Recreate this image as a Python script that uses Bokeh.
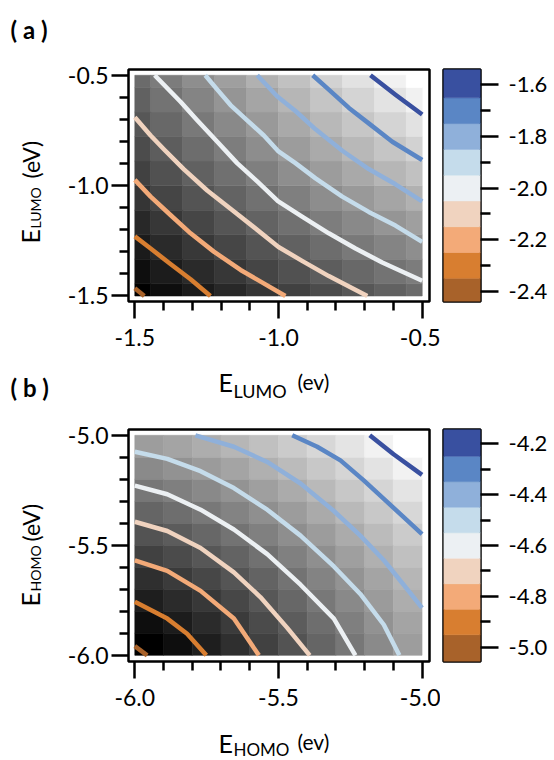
import numpy as np
from bokeh.plotting import figure
from bokeh.layouts import column, row
from bokeh.models import (Range1d, FixedTicker, PrintfTickFormatter, Label,
                          LinearColorMapper, ColumnDataSource)
from bokeh.palettes import Greys256
from bokeh.embed import file_html
from bokeh.resources import INLINE

FONT = "Lato"

# ---------------- panel (a) data ----------------
a_grid = [-1.5, -1.389, -1.278, -1.167, -1.056, -0.944, -0.833, -0.722, -0.611, -0.5]
a_z = [
    [-2.413, -2.364, -2.317, -2.271, -2.227, -2.185, -2.145, -2.107, -2.072, -2.039],
    [-2.364, -2.314, -2.265, -2.218, -2.172, -2.129, -2.087, -2.048, -2.011, -1.977],
    [-2.317, -2.265, -2.215, -2.166, -2.119, -2.074, -2.030, -1.990, -1.951, -1.915],
    [-2.271, -2.218, -2.166, -2.115, -2.067, -2.020, -1.975, -1.932, -1.892, -1.855],
    [-2.227, -2.172, -2.119, -2.067, -2.016, -1.968, -1.921, -1.876, -1.834, -1.795],
    [-2.185, -2.129, -2.074, -2.020, -1.968, -1.917, -1.868, -1.822, -1.778, -1.737],
    [-2.145, -2.087, -2.030, -1.975, -1.921, -1.868, -1.818, -1.769, -1.723, -1.680],
    [-2.107, -2.048, -1.990, -1.932, -1.876, -1.822, -1.769, -1.719, -1.670, -1.624],
    [-2.072, -2.011, -1.951, -1.892, -1.834, -1.778, -1.723, -1.670, -1.620, -1.571],
    [-2.039, -1.977, -1.915, -1.855, -1.795, -1.737, -1.680, -1.624, -1.571, -1.520],
]
a_levels = [-2.4, -2.3, -2.2, -2.1, -2.0, -1.9, -1.8, -1.7, -1.6]
a_cont_x = [
    [-1.5, -1.467],
    [-1.5, -1.445, -1.376, -1.306, -1.237],
    [-1.5, -1.445, -1.376, -1.306, -1.225, -1.132, -0.976],
    [-1.5, -1.445, -1.399, -1.330, -1.248, -1.167, -1.086, -1.0, -0.918, -0.825, -0.691],
    [-1.431, -1.341, -1.283, -1.213, -1.144, -1.074, -1.002, -0.918, -0.825, -0.732, -0.639, -0.5],
    [-1.255, -1.213, -1.167, -1.109, -1.051, -1.0, -0.941, -0.871, -0.778, -0.686, -0.593, -0.5],
    [-1.074, -1.005, -0.941, -0.871, -0.778, -0.686, -0.593, -0.5],
    [-0.881, -0.825, -0.755, -0.686, -0.604, -0.5],
    [-0.680, -0.593, -0.5],
]
a_cont_y = [
    [-1.465, -1.5],
    [-1.230, -1.285, -1.355, -1.424, -1.5],
    [-0.974, -1.050, -1.133, -1.216, -1.299, -1.382, -1.5],
    [-0.690, -0.773, -0.835, -0.925, -1.022, -1.105, -1.188, -1.278, -1.341, -1.410, -1.5],
    [-0.5, -0.620, -0.704, -0.801, -0.898, -0.981, -1.070, -1.140, -1.216, -1.285, -1.348, -1.431],
    [-0.5, -0.565, -0.635, -0.704, -0.773, -0.845, -0.898, -0.967, -1.050, -1.119, -1.181, -1.255],
    [-0.5, -0.595, -0.662, -0.745, -0.842, -0.925, -0.994, -1.071],
    [-0.5, -0.565, -0.648, -0.718, -0.801, -0.884],
    [-0.5, -0.588, -0.678],
]
a_ticks = [-1.5, -1.0, -0.5]
a_minor = [-1.4, -1.3, -1.2, -1.1, -0.9, -0.8, -0.7, -0.6]
a_cbar_ticks = [-2.4, -2.2, -2.0, -1.8, -1.6]
a_cbar_minor = [-2.3, -2.1, -1.9, -1.7]

# ---------------- panel (b) data ----------------
b_grid = [-5.95, -5.85, -5.75, -5.65, -5.55, -5.45, -5.35, -5.25, -5.15, -5.05]
b_z = [
    [-4.970, -4.923, -4.872, -4.819, -4.764, -4.707, -4.649, -4.591, -4.531, -4.471],
    [-4.923, -4.880, -4.833, -4.783, -4.731, -4.677, -4.621, -4.565, -4.507, -4.449],
    [-4.872, -4.833, -4.790, -4.743, -4.694, -4.643, -4.590, -4.535, -4.479, -4.422],
    [-4.819, -4.783, -4.743, -4.700, -4.654, -4.605, -4.554, -4.502, -4.448, -4.393],
    [-4.764, -4.731, -4.694, -4.654, -4.610, -4.564, -4.515, -4.465, -4.413, -4.360],
    [-4.707, -4.677, -4.643, -4.605, -4.564, -4.520, -4.474, -4.426, -4.376, -4.325],
    [-4.649, -4.621, -4.590, -4.554, -4.515, -4.474, -4.430, -4.384, -4.336, -4.287],
    [-4.591, -4.565, -4.535, -4.502, -4.465, -4.426, -4.384, -4.340, -4.294, -4.246],
    [-4.531, -4.507, -4.479, -4.448, -4.413, -4.376, -4.336, -4.294, -4.250, -4.204],
    [-4.471, -4.449, -4.422, -4.393, -4.360, -4.325, -4.287, -4.246, -4.204, -4.160],
]
b_levels = [-5.0, -4.9, -4.8, -4.7, -4.6, -4.5, -4.4, -4.3, -4.2]
b_cont_x = [
    [-6.0, -5.957],
    [-6.0, -5.887, -5.818, -5.751],
    [-6.0, -5.887, -5.771, -5.655, -5.568],
    [-6.0, -5.887, -5.771, -5.655, -5.563, -5.470, -5.391],
    [-6.0, -5.887, -5.771, -5.655, -5.539, -5.423, -5.307, -5.232],
    [-6.0, -5.887, -5.771, -5.655, -5.539, -5.423, -5.307, -5.215, -5.133, -5.079],
    [-5.789, -5.655, -5.539, -5.423, -5.307, -5.215, -5.133, -5.064, -5.0],
    [-5.452, -5.365, -5.284, -5.203, -5.133, -5.064, -5.0],
    [-5.182, -5.099, -5.0],
]
b_cont_y = [
    [-5.958, -6.0],
    [-5.756, -5.833, -5.902, -6.0],
    [-5.568, -5.616, -5.707, -5.833, -6.0],
    [-5.393, -5.435, -5.512, -5.623, -5.735, -5.874, -6.0],
    [-5.229, -5.268, -5.338, -5.428, -5.540, -5.679, -5.833, -6.0],
    [-5.075, -5.107, -5.163, -5.240, -5.338, -5.456, -5.596, -5.721, -5.861, -6.0],
    [-5.0, -5.052, -5.121, -5.219, -5.344, -5.456, -5.568, -5.679, -5.784],
    [-5.0, -5.052, -5.114, -5.205, -5.289, -5.372, -5.449],
    [-5.0, -5.086, -5.180],
]
b_ticks = [-6.0, -5.5, -5.0]
b_minor = [-5.9, -5.8, -5.7, -5.6, -5.4, -5.3, -5.2, -5.1]
b_cbar_ticks = [-5.0, -4.8, -4.6, -4.4, -4.2]
b_cbar_minor = [-4.9, -4.7, -4.5, -4.3]

level_colors = ["#A8622A", "#D87E30", "#F3AA78", "#F0D3BF", "#ECF0F3",
                "#C5DCEB", "#8FB0DA", "#5A86C5", "#3950A0"]


def style_axis(ax, ticks, minor, standoff, tick_out=17, minor_out=9, size=23):
    ax.ticker = FixedTicker(ticks=ticks, minor_ticks=minor)
    ax.formatter = PrintfTickFormatter(format="%.1f")
    ax.axis_line_color = None
    ax.major_tick_line_color = "black"
    ax.major_tick_line_width = 2.5
    ax.major_tick_out = tick_out
    ax.major_tick_in = 0
    ax.minor_tick_line_color = "black"
    ax.minor_tick_line_width = 2.5
    ax.minor_tick_out = minor_out
    ax.minor_tick_in = 0
    ax.major_label_text_font = FONT
    ax.major_label_text_font_size = f"{size}px"
    ax.major_label_text_color = "black"
    ax.major_label_standoff = standoff
    ax.axis_label = None


def text_strip(w, h):
    s = figure(width=w, height=h, x_range=Range1d(0, w), y_range=Range1d(0, h),
               x_axis_type=None, y_axis_type=None, output_backend="svg",
               toolbar_location=None,
               min_border_left=0, min_border_right=0,
               min_border_top=0, min_border_bottom=0)
    s.outline_line_color = None
    s.background_fill_color = "white"
    s.border_fill_color = "white"
    return s


def put(s, text, x, baseline, size, angle=0.0, bold=False):
    # x: start of the text; baseline: canvas position of its baseline
    # (the label is anchored at the middle of its line box)
    mid = 0.387 * size
    if angle:
        xx, yy = baseline - mid, x
    else:
        xx, yy = x, baseline - mid
    s.add_layout(Label(x=xx, y=yy, x_units="canvas", y_units="canvas", text=text,
                       text_font=FONT, text_font_size=f"{size}px",
                       text_font_style="bold" if bold else "normal",
                       text_color="black", text_baseline="middle",
                       text_align="left", angle=angle))


def main_fig(grid, z, half, lo, hi, cx, cy, xr, yr, h, top, bottom, ticks, minor, xstand):
    p = figure(width=390, height=h, x_range=Range1d(*xr), y_range=Range1d(*yr),
               output_backend="svg", toolbar_location=None,
               min_border_left=78, min_border_right=11,
               min_border_top=top, min_border_bottom=bottom)
    p.grid.visible = False
    p.outline_line_color = "black"
    p.outline_line_width = 2.5
    p.outline_line_alpha = 1.0
    p.background_fill_color = "white"
    p.border_fill_color = "white"

    X, Y = np.meshgrid(np.array(grid), np.array(grid))
    Z = np.array(z)
    src = ColumnDataSource(dict(
        l=np.clip(X - half, lo, hi).ravel(), r=np.clip(X + half, lo, hi).ravel(),
        b=np.clip(Y - half, lo, hi).ravel(), t=np.clip(Y + half, lo, hi).ravel(),
        z=Z.ravel()))
    mapper = LinearColorMapper(palette=Greys256, low=Z.min(), high=Z.max())
    p.quad(left="l", right="r", bottom="b", top="t", source=src,
           fill_color={"field": "z", "transform": mapper},
           line_color={"field": "z", "transform": mapper}, line_width=0.6)

    for xs, ys, c in zip(cx, cy, level_colors):
        p.line(xs, ys, line_color=c, line_width=4.5, line_join="round")

    style_axis(p.xaxis[0], ticks, minor, xstand)
    style_axis(p.yaxis[0], ticks, minor, 3)
    return p


def cbar_fig(levels, yr, h, top, bottom, ticks, minor):
    p = figure(width=114, height=h, x_range=Range1d(0, 1), y_range=Range1d(*yr),
               y_axis_location="right", output_backend="svg", toolbar_location=None,
               min_border_left=3, min_border_right=74,
               min_border_top=top, min_border_bottom=bottom)
    p.grid.visible = False
    p.xaxis.visible = False
    p.outline_line_color = "black"
    p.outline_line_width = 2.5
    p.border_fill_color = "white"
    lv = np.array(levels)
    bots = lv - 0.05
    tops = lv + 0.05
    bots[0] -= 0.05
    tops[-1] += 0.05
    p.quad(left=0, right=1, bottom=bots, top=tops, fill_color=level_colors,
           line_color=level_colors, line_width=0.5)
    style_axis(p.yaxis[0], ticks, minor, 10, tick_out=18, minor_out=10, size=22)
    return p


ROT = np.pi / 2

# ---- top strip: panel label (a) ----
top_a = text_strip(554, 56)
put(top_a, "( a )", 10, 38, 24, bold=True)

# ---- row (a) ----
ylab_a = text_strip(50, 310)
put(ylab_a, "E", 187, 39, 25, angle=ROT)
put(ylab_a, "LUMO", 172, 40, 14, angle=ROT)
put(ylab_a, "(eV)", 122, 39, 23, angle=ROT)

pa = main_fig(a_grid, a_z, 1 / 18, -1.5, -0.5, a_cont_x, a_cont_y,
              (-1.522, -0.4746), (-1.525, -0.4738), 310, 2, 55, a_ticks, a_minor, 10)
ca = cbar_fig(a_levels, (-2.44, -1.54), 310, 13, 65, a_cbar_ticks, a_cbar_minor)

# ---- middle strip: x label of (a) and panel label (b) ----
mid = text_strip(554, 36)
put(mid, "E", 218, 25, 25)
put(mid, "LUMO", 233, 31, 18)
put(mid, "(ev)", 297, 23, 21)
put(mid, "( b )", 10, 30, 24, bold=True)

# ---- row (b) ----
ylab_b = text_strip(50, 324)
put(ylab_b, "E", 204, 39, 25, angle=ROT)
put(ylab_b, "HOMO", 189, 40, 14, angle=ROT)
put(ylab_b, "(eV)", 139, 39, 23, angle=ROT)

pb = main_fig(b_grid, b_z, 0.05, -6.0, -5.0, b_cont_x, b_cont_y,
              (-6.022, -4.974), (-6.028, -4.9736), 324, 17, 55, b_ticks, b_minor, 10)
cb = cbar_fig(b_levels, (-5.055, -4.145), 324, 27, 65, b_cbar_ticks, b_cbar_minor)

# ---- bottom strip: x label of (b) ----
bot = text_strip(554, 34)
put(bot, "E", 218, 26, 25)
put(bot, "HOMO", 233, 30, 17)
put(bot, "(ev)", 297, 23, 21)

layout = column(top_a, row(ylab_a, pa, ca), mid, row(ylab_b, pb, cb), bot)
open("out.html", "w").write(file_html(layout, INLINE))
